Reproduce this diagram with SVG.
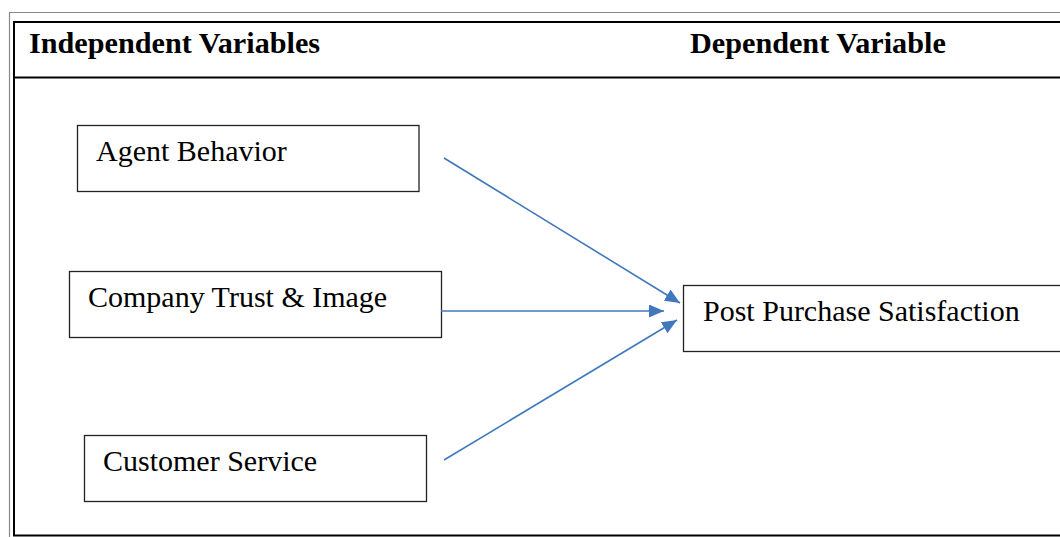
<svg xmlns="http://www.w3.org/2000/svg" width="1060" height="537" viewBox="0 0 1060 537">
<defs>
<style>
.hdr{font-family:"Liberation Serif","Times New Roman",serif;font-weight:bold;font-size:30.2px;fill:#000}
.lbl{font-family:"Liberation Serif","Times New Roman",serif;font-size:30px;fill:#000}
.box{fill:#fff;stroke:#222;stroke-width:1.3}
.conn{stroke:#4177BD;stroke-width:1.6;fill:none;marker-end:url(#ah)}
</style>
<marker id="ah" markerUnits="userSpaceOnUse" markerWidth="16" markerHeight="14" refX="15" refY="6.5" orient="auto">
<path d="M0,0 L15,6.5 L0,13 z" fill="#4177BD"/>
</marker>
</defs>
<rect x="0" y="0" width="1060" height="537" fill="#fff"/>
<g id="frame">
<path d="M9.5,540 V12.5 H1065" fill="none" stroke="#888" stroke-width="1.2"/>
<rect x="14" y="22" width="1060" height="513.5" fill="none" stroke="#000" stroke-width="2"/>
<line x1="14" y1="77.5" x2="1065" y2="77.5" stroke="#000" stroke-width="2"/>
<text class="hdr" x="29" y="53">Independent Variables</text>
<text class="hdr" x="690" y="53">Dependent Variable</text>
</g>
<g id="agent">
<rect class="box" x="77.5" y="125.5" width="341.5" height="66"/>
<text class="lbl" x="96" y="161">Agent Behavior</text>
</g>
<g id="company">
<rect class="box" x="69.5" y="271.5" width="372" height="66"/>
<text class="lbl" x="88" y="307">Company Trust &amp; Image</text>
</g>
<g id="customer">
<rect class="box" x="84.5" y="435.5" width="342" height="66"/>
<text class="lbl" x="103" y="471">Customer Service</text>
</g>
<g id="post">
<rect class="box" x="683.5" y="285.5" width="400" height="66"/>
<text class="lbl" x="703" y="321">Post Purchase Satisfaction</text>
</g>
<g id="connectors">
<line class="conn" x1="444" y1="158" x2="680" y2="303"/>
<line class="conn" x1="441" y1="311" x2="664" y2="311"/>
<line class="conn" x1="444" y1="460" x2="677" y2="320"/>
</g>
</svg>
